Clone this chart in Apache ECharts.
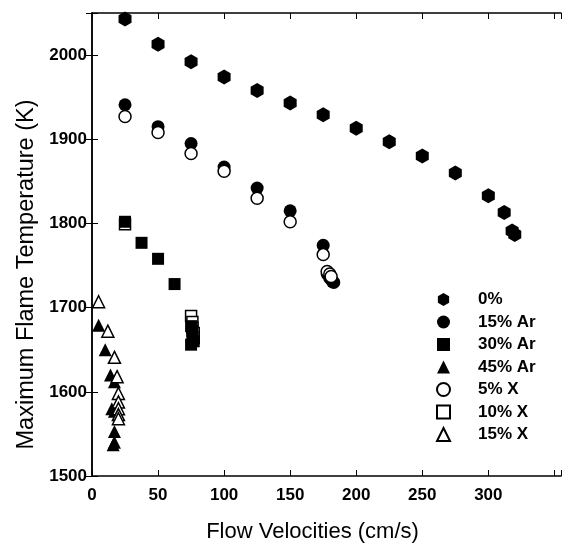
<!DOCTYPE html>
<html>
<head>
<meta charset="utf-8">
<script src="https://cdn.jsdelivr.net/npm/echarts@6/dist/echarts.min.js"></script>
<style>
html,body{margin:0;padding:0;background:#fff;}
#chart{width:564px;height:548px;}
</style>
</head>
<body>
<div id="chart"></div>
<script type="text/javascript">
// series values [velocity cm/s, temperature K]
var seriesNames = ['0%', '15% Ar', '30% Ar', '45% Ar', '5% X', '10% X', '15% X'];
var pct0 = [[25,2043],[50,2013],[75,1992],[100,1974],[125,1958],[150,1943],[175,1929],[200,1913],[225,1897],[250,1880],[275,1860],[300,1833],[312,1813],[318,1791],[320,1787]];
var ar15 = [[25,1941],[50,1915],[75,1895],[100,1867],[125,1842],[150,1815],[175,1774],[178,1740],[180,1735],[182,1731],[183,1730]];
var ar30 = [[25,1802],[37.5,1777],[50,1758],[62.5,1728],[75,1678],[76,1672],[76,1666],[77,1660],[75,1656]];
var ar45 = [[5,1679],[10,1650],[14,1620],[17,1612],[15,1580],[17,1577],[17,1553],[17,1540],[16,1537]];
var x5 = [[25,1927],[50,1908],[75,1883],[100,1862],[125,1830],[150,1802],[175,1763],[178,1743],[180,1740],[181,1737]];
var x10 = [[25,1799],[75,1690],[76,1683],[76,1676],[77,1670],[77,1664]];
var x15 = [[5,1707],[12,1672],[17,1641],[19,1618],[20,1598],[20,1588],[20,1580],[20,1573],[20,1568]];
var xTicks = [0, 50, 100, 150, 200, 250, 300];
var yTicks = [1500, 1600, 1700, 1800, 1900, 2000];

var hexagon = 'path://M0,-1L0.866,-0.5L0.866,0.5L0,1L-0.866,0.5L-0.866,-0.5Z';
var FONT = 'Liberation Sans, Arial, sans-serif';

function filled(name, data, symbol, size, z){
	return {
		name: name, type: 'scatter', data: data, symbol: symbol, symbolSize: size, z: z,
		itemStyle: {color: '#000', borderColor: '#000', borderWidth: 0, opacity: 1}
	};
}
function hollow(name, data, symbol, size, z){
	return {
		name: name, type: 'scatter', data: data, symbol: symbol, symbolSize: size, z: z,
		itemStyle: {color: '#fff', borderColor: '#000', borderWidth: 1.5, opacity: 1}
	};
}

var myChart = echarts.init(document.getElementById('chart'));
var option = {
	animation: false,
	backgroundColor: '#fff',
	textStyle: {fontFamily: FONT},
	grid: {left: 92, right: 2, top: 13, bottom: 66},
	legend: {
		orient: 'vertical',
		left: 431, top: 286,
		itemWidth: 13, itemHeight: 13, itemGap: 5.5,
		data: seriesNames,
		textStyle: {fontFamily: FONT, fontSize: 17, fontWeight: 'bold', color: '#000', padding: [0,0,0,23]}
	},
	xAxis: [{
		type: 'value', min: 0, max: 355, interval: 50, position: 'bottom',
		name: 'Flow Velocities (cm/s)', nameLocation: 'middle', nameGap: 45,
		nameTextStyle: {fontFamily: FONT, fontSize: 22, color: '#000', padding: [0, 28, 0, 0]},
		axisLine: {show: true, lineStyle: {color: '#000', width: 1.5}},
		axisTick: {show: true, inside: true, length: 6, lineStyle: {color: '#000'}},
		axisLabel: {
			fontFamily: FONT, fontSize: 17, fontWeight: 'bold', color: '#000', margin: 11,
			formatter: function(v){ return xTicks.indexOf(v) >= 0 ? String(v) : ''; }
		},
		splitLine: {show: false}
	}, {
		type: 'value', min: 0, max: 355, interval: 50, position: 'top',
		axisLine: {show: true, lineStyle: {color: '#000', width: 1.5}},
		axisTick: {show: true, inside: true, length: 6, lineStyle: {color: '#000'}},
		axisLabel: {show: false},
		splitLine: {show: false}
	}],
	yAxis: [{
		type: 'value', min: 1500, max: 2050, interval: 100, position: 'left',
		name: 'Maximum Flame Temperature (K)', nameLocation: 'middle', nameGap: 50,
		nameTextStyle: {fontFamily: FONT, fontSize: 23.5, color: '#000', padding: [0, 60, 0, 0]},
		axisLine: {show: true, lineStyle: {color: '#000', width: 1.5}},
		axisTick: {show: true, inside: true, length: 6, lineStyle: {color: '#000'}},
		axisLabel: {
			fontFamily: FONT, fontSize: 17, fontWeight: 'bold', color: '#000', margin: 5,
			formatter: function(v){ return yTicks.indexOf(v) >= 0 ? String(v) : ''; }
		},
		splitLine: {show: false}
	}, {
		type: 'value', min: 1500, max: 2050, interval: 100, position: 'right',
		axisLine: {show: true, lineStyle: {color: '#000', width: 1.5}},
		axisTick: {show: true, inside: true, length: 6, lineStyle: {color: '#000'}},
		axisLabel: {show: false},
		splitLine: {show: false}
	}],
	series: [
		filled('0%', pct0, hexagon, [13, 15], 5),
		filled('15% Ar', ar15, 'circle', 13, 3),
		filled('30% Ar', ar30, 'rect', 12, 4),
		filled('45% Ar', ar45, 'triangle', 13, 3),
		hollow('5% X', x5, 'circle', 12, 4),
		hollow('10% X', x10, 'rect', 11, 2),
		hollow('15% X', x15, 'triangle', 12, 4)
	]
};
myChart.setOption(option);
</script>
</body>
</html>
